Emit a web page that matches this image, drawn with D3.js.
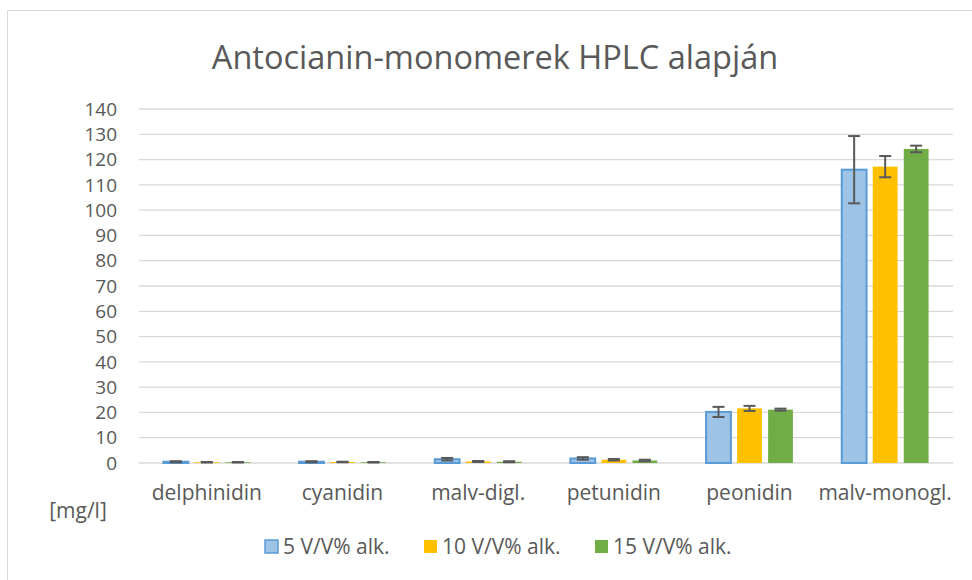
<!DOCTYPE html>
<html>
<head>
<meta charset="utf-8">
<script src="https://cdn.jsdelivr.net/npm/d3@7"></script>
<style>
  body { margin: 0; background: #fff; }
  text { font-family: "Open Sans", Lato, sans-serif; fill: #595959; }
</style>
</head>
<body>
<div id="chart"></div>
<script>
const categories = ['delphinidin', 'cyanidin', 'malv-digl.', 'petunidin', 'peonidin', 'malv-monogl.'];
const seriesNames = ['5 V/V% alk.', '10 V/V% alk.', '15 V/V% alk.'];
const values5 = [0.5, 0.5, 1.5, 1.8, 20.2, 116];
const values10 = [0.3, 0.4, 0.6, 1.3, 21.6, 117.2];
const values15 = [0.3, 0.3, 0.5, 1.0, 21.1, 124.2];
const err5 = [0.2, 0.2, 0.5, 0.5, 2.0, 13.3];
const err10 = [0.1, 0.1, 0.2, 0.3, 1.0, 4.2];
const err15 = [0.1, 0.1, 0.2, 0.3, 0.4, 1.3];
const yTicks = [0, 10, 20, 30, 40, 50, 60, 70, 80, 90, 100, 110, 120, 130, 140];

const fills = ['#9dc3e6', '#ffc000', '#70ad47'];
const strokes = ['#5b9bd5', '#ffc000', '#70ad47'];

const W = 972, H = 580;
const margin = { top: 109, right: 19, bottom: 117, left: 139 };
const width = W - margin.left - margin.right;
const height = H - margin.top - margin.bottom;

const svg = d3.select('#chart').append('svg')
    .attr('width', W)
    .attr('height', H);

// chart border
svg.append('rect')
    .attr('x', 7.5).attr('y', 10.5)
    .attr('width', 970).attr('height', 575)
    .attr('fill', 'none')
    .attr('stroke', '#d9d9d9');

svg.append('text')
    .attr('x', 495).attr('y', 69)
    .attr('text-anchor', 'middle')
    .style('font-size', '32.5px')
    .text('Antocianin-monomerek HPLC alapján');

const g = svg.append('g')
    .attr('transform', `translate(${margin.left}, ${margin.top})`);

const x = d3.scaleBand()
    .domain(categories)
    .range([0, width]);

const y = d3.scaleLinear()
    .domain([0, 140])
    .range([height, 0]);

const x1 = d3.scaleBand()
    .domain([0, 1, 2])
    .range([x.bandwidth() * 0.18, x.bandwidth() * 0.82])
    .paddingInner(0.2);

// gridlines
g.selectAll('.grid')
    .data(yTicks)
    .enter().append('line')
    .attr('x1', 0).attr('x2', width)
    .attr('y1', d => y(d)).attr('y2', d => y(d))
    .attr('stroke', '#d9d9d9')
    .attr('stroke-width', 1.3);

// y axis labels
g.selectAll('.ytick')
    .data(yTicks)
    .enter().append('text')
    .attr('x', -22)
    .attr('y', d => y(d))
    .attr('dy', '0.35em')
    .attr('text-anchor', 'end')
    .style('font-size', '19px')
    .text(d => d);

// x axis labels
g.selectAll('.xtick')
    .data(categories)
    .enter().append('text')
    .attr('x', d => x(d) + x.bandwidth() / 2)
    .attr('y', height + 37)
    .attr('text-anchor', 'middle')
    .style('font-size', '21px')
    .text(d => d);

svg.append('text')
    .attr('x', 78).attr('y', 518)
    .attr('text-anchor', 'middle')
    .style('font-size', '21px')
    .text('[mg/l]');

const series = [values5, values10, values15];
const errors = [err5, err10, err15];

series.forEach((vals, s) => {
    const data = categories.map((c, i) => ({ cat: c, v: vals[i], e: errors[s][i] }));
    g.selectAll('.bar' + s)
        .data(data)
        .enter().append('rect')
        .attr('x', d => x(d.cat) + x1(s))
        .attr('width', x1.bandwidth())
        .attr('y', d => y(d.v))
        .attr('height', d => height - y(d.v))
        .attr('fill', fills[s])
        .attr('stroke', s === 0 ? strokes[s] : 'none')
        .attr('stroke-width', 2);

    const eb = g.selectAll('.err' + s)
        .data(data)
        .enter().append('g')
        .attr('stroke', '#595959')
        .attr('stroke-width', 2);
    eb.append('line')
        .attr('x1', d => x(d.cat) + x1(s) + x1.bandwidth() / 2)
        .attr('x2', d => x(d.cat) + x1(s) + x1.bandwidth() / 2)
        .attr('y1', d => y(d.v - d.e))
        .attr('y2', d => y(d.v + d.e));
    [-1, 1].forEach(sign => {
        eb.append('line')
            .attr('x1', d => x(d.cat) + x1(s) + x1.bandwidth() / 2 - 6)
            .attr('x2', d => x(d.cat) + x1(s) + x1.bandwidth() / 2 + 6)
            .attr('y1', d => y(d.v + sign * d.e))
            .attr('y2', d => y(d.v + sign * d.e));
    });
});

// legend
const legendX = [265, 424, 595];
const legend = svg.selectAll('.legend')
    .data(seriesNames)
    .enter().append('g')
    .attr('transform', (d, i) => `translate(${legendX[i]}, 547)`);
legend.append('rect')
    .attr('x', 0).attr('y', -7)
    .attr('width', 13).attr('height', 13)
    .attr('fill', (d, i) => fills[i])
    .attr('stroke', (d, i) => i === 0 ? strokes[i] : 'none')
    .attr('stroke-width', 1.5);
legend.append('text')
    .attr('x', 18).attr('y', 0)
    .attr('dy', '0.35em')
    .style('font-size', '21px')
    .text(d => d);
</script>
</body>
</html>
